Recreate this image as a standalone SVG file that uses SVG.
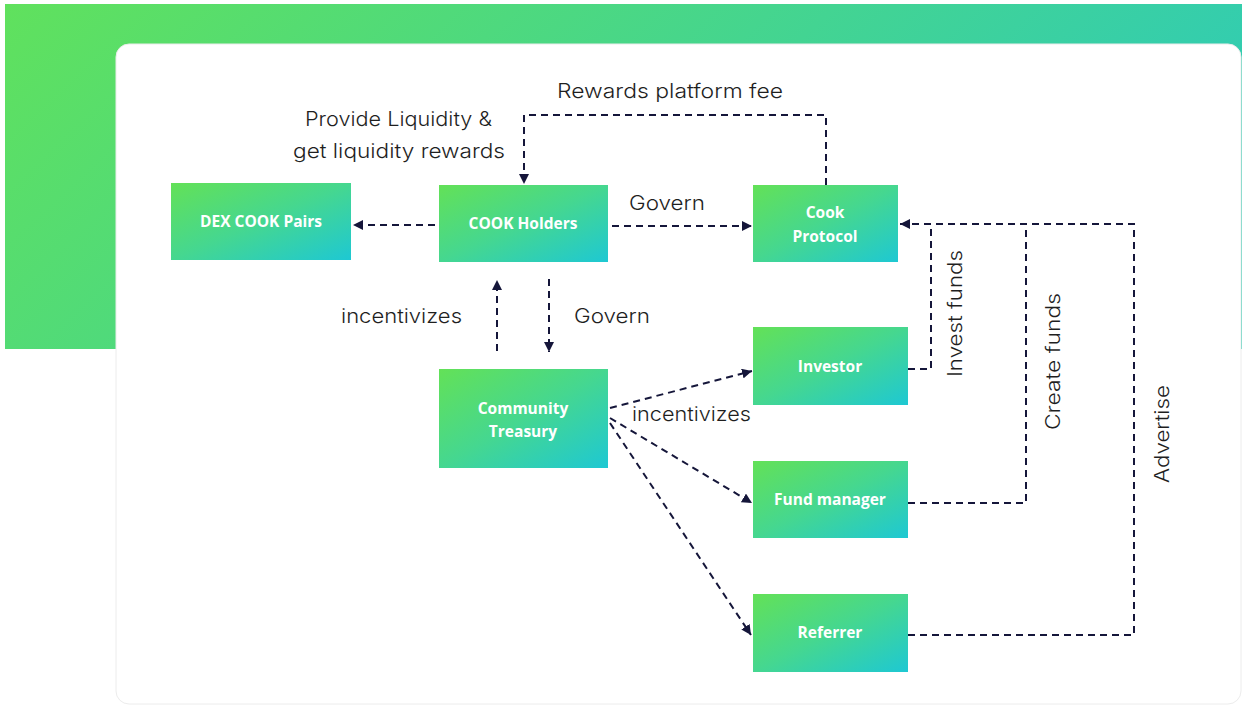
<svg xmlns="http://www.w3.org/2000/svg" width="1242" height="706" viewBox="0 0 1242 706">
<defs>
<linearGradient id="bg" x1="0" y1="0" x2="1" y2="0.3">
<stop offset="0" stop-color="#60E15D"/>
<stop offset="1" stop-color="#31CCB3"/>
</linearGradient>
<linearGradient id="ng" x1="0" y1="0" x2="1" y2="1">
<stop offset="0" stop-color="#63E157"/>
<stop offset="0.5" stop-color="#45D790"/>
<stop offset="1" stop-color="#1EC8D3"/>
</linearGradient>
<marker id="ah" viewBox="0 0 10 10" refX="10" refY="5" markerWidth="10" markerHeight="10" markerUnits="userSpaceOnUse" orient="auto">
<path d="M0,0 L10,5 L0,10 Z" fill="#15163A"/>
</marker>
<style>
.node rect{fill:url(#ng)}
.node text{font-family:"Open Sans","Liberation Sans",sans-serif;font-weight:700;font-size:15.5px;fill:#fff;text-anchor:middle}
.lbl{font-family:Inter,"Liberation Sans",sans-serif;font-size:20px;fill:#1f1f1f;font-weight:300}
.c{fill:none;stroke:#15163A;stroke-width:2;stroke-dasharray:7 5}
</style>
</defs>
<rect x="5" y="4" width="1237" height="345" fill="url(#bg)"/>
<rect x="116" y="44" width="1125" height="660" rx="13" fill="#fff" stroke="#ececec" stroke-width="1"/>

<g id="connectors">
<path class="c" d="M435,225 H353" marker-end="url(#ah)"/>
<path class="c" d="M612,226 H752" marker-end="url(#ah)"/>
<path class="c" d="M826,185 V115 H524 V184" marker-end="url(#ah)"/>
<path class="c" d="M497,351 V280" marker-end="url(#ah)"/>
<path class="c" d="M549,279 V352" marker-end="url(#ah)"/>
<path class="c" d="M610,408 L752,371" marker-end="url(#ah)"/>
<path class="c" d="M610,418 L752,503" marker-end="url(#ah)"/>
<path class="c" d="M610,423 L751,635" marker-end="url(#ah)"/>
<path class="c" d="M908,369 H931 V225"/>
<path class="c" d="M908,503 H1026 V224"/>
<path class="c" d="M908,635 H1134 V224 H900" marker-end="url(#ah)"/>
</g>

<g id="labels">
<text class="lbl" x="557" y="98" textLength="226" lengthAdjust="spacingAndGlyphs">Rewards platform fee</text>
<text class="lbl" x="305" y="126" textLength="187" lengthAdjust="spacingAndGlyphs">Provide Liquidity &amp;</text>
<text class="lbl" x="293" y="158" textLength="212" lengthAdjust="spacingAndGlyphs">get liquidity rewards</text>
<text class="lbl" x="629" y="210" textLength="76" lengthAdjust="spacingAndGlyphs">Govern</text>
<text class="lbl" x="341" y="323" textLength="121" lengthAdjust="spacingAndGlyphs">incentivizes</text>
<text class="lbl" x="574" y="323" textLength="76" lengthAdjust="spacingAndGlyphs">Govern</text>
<text class="lbl" x="632" y="421" textLength="119" lengthAdjust="spacingAndGlyphs">incentivizes</text>
<text class="lbl" transform="translate(962,377) rotate(-90)" textLength="127" lengthAdjust="spacingAndGlyphs">Invest funds</text>
<text class="lbl" transform="translate(1060,430) rotate(-90)" textLength="137" lengthAdjust="spacingAndGlyphs">Create funds</text>
<text class="lbl" transform="translate(1169,483) rotate(-90)" textLength="98" lengthAdjust="spacingAndGlyphs">Advertise</text>
</g>

<g id="dex" class="node"><rect x="171" y="183" width="180" height="77"/><text x="261" y="227">DEX COOK Pairs</text></g>
<g id="holders" class="node"><rect x="439" y="185" width="169" height="77"/><text x="523" y="229">COOK Holders</text></g>
<g id="protocol" class="node"><rect x="753" y="185" width="145" height="77"/><text x="825" y="218">Cook</text><text x="825" y="242">Protocol</text></g>
<g id="treasury" class="node"><rect x="439" y="369" width="169" height="99"/><text x="523" y="414">Community</text><text x="523" y="437">Treasury</text></g>
<g id="investor" class="node"><rect x="753" y="327" width="155" height="78"/><text x="830" y="372">Investor</text></g>
<g id="fundmanager" class="node"><rect x="753" y="461" width="155" height="77"/><text x="830" y="505">Fund manager</text></g>
<g id="referrer" class="node"><rect x="753" y="594" width="155" height="78"/><text x="830" y="638">Referrer</text></g>
</svg>
